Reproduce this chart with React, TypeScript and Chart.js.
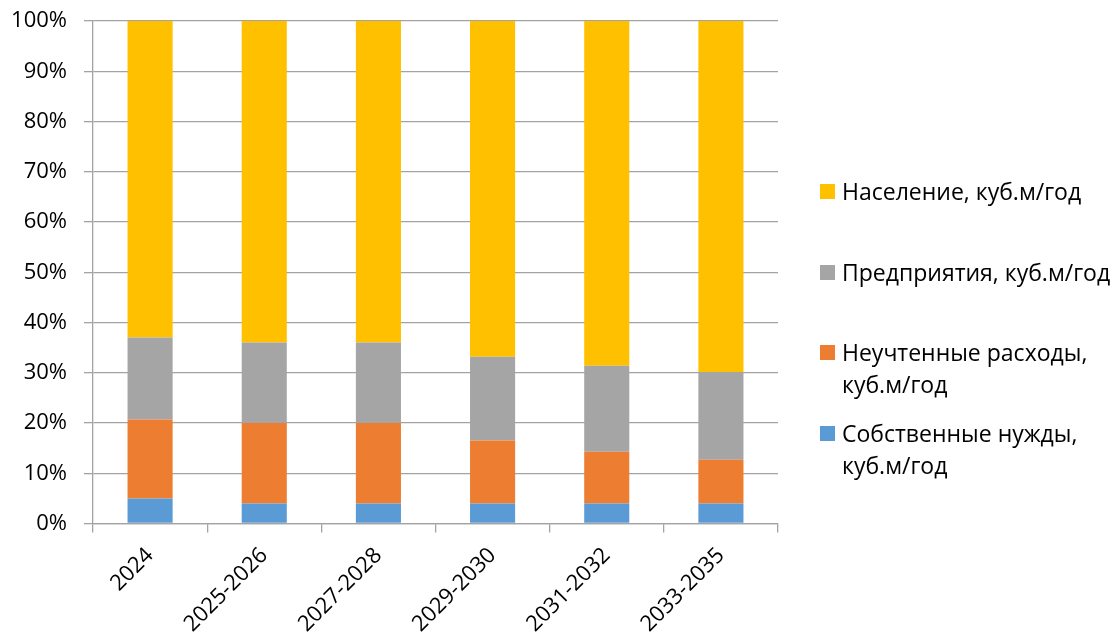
import React, { useEffect, useRef } from "react";
import { Chart, registerables } from "chart.js";

Chart.register(...registerables);

// Periods on the category axis
const periods = ["2024", "2025-2026", "2027-2028", "2029-2030", "2031-2032", "2033-2035"];

// Share of total water consumption, %
const ownNeeds = [5.0, 4.0, 4.0, 4.0, 4.0, 4.0];
const unaccounted = [15.7, 16.0, 16.0, 12.5, 10.3, 8.7];
const enterprises = [16.3, 16.0, 16.0, 16.7, 17.1, 17.4];
const population = [63.0, 64.0, 64.0, 66.8, 68.6, 69.9];

const seriesNames = [
  "Собственные нужды, куб.м/год",
  "Неучтенные расходы, куб.м/год",
  "Предприятия, куб.м/год",
  "Население, куб.м/год",
];
const seriesColors = ["#5B9BD5", "#ED7D31", "#A5A5A5", "#FFC000"];

// Legend entries, top to bottom, with their wrapped lines
const legendItems = [
  { color: "#FFC000", lines: ["Население, куб.м/год"], top: 175 },
  { color: "#A5A5A5", lines: ["Предприятия, куб.м/год"], top: 256 },
  { color: "#ED7D31", lines: ["Неучтенные расходы,", "куб.м/год"], top: 336 },
  { color: "#5B9BD5", lines: ["Собственные нужды,", "куб.м/год"], top: 417 },
];

const FONT = "'Open Sans', 'DejaVu Sans', sans-serif";
const GRID = "#a3a3a3";

export default function App() {
  const canvasRef = useRef<HTMLCanvasElement | null>(null);

  useEffect(() => {
    const canvas = canvasRef.current;
    if (!canvas) return;
    const values = [ownNeeds, unaccounted, enterprises, population];
    const chart = new Chart(canvas, {
      type: "bar",
      data: {
        labels: periods,
        datasets: values.map((data, i) => ({
          label: seriesNames[i],
          data,
          backgroundColor: seriesColors[i],
          borderWidth: 0,
          barPercentage: 0.395,
          categoryPercentage: 1,
        })),
      },
      options: {
        responsive: false,
        animation: false,
        layout: { padding: { top: 21, right: 342, left: 0, bottom: 0 } },
        plugins: { legend: { display: false }, tooltip: { enabled: false } },
        scales: {
          x: {
            stacked: true,
            offset: true,
            grid: {
              offset: true,
              drawOnChartArea: false,
              drawTicks: true,
              tickLength: 9,
              color: GRID,
              lineWidth: 1.3,
            },
            border: { color: GRID, width: 1.3 },
            ticks: {
              color: "#000",
              font: { family: FONT, size: 22 },
              minRotation: 45,
              maxRotation: 45,
              padding: 10,
            },
            afterFit: (scale: any) => {
              scale.height = 641 - 523.5;
            },
          },
          y: {
            stacked: true,
            min: 0,
            max: 100,
            grid: { color: GRID, lineWidth: 1.3, tickLength: 9, drawTicks: true },
            border: { color: GRID, width: 1.3 },
            ticks: {
              stepSize: 10,
              color: "#000",
              padding: 17,
              font: { family: FONT, size: 22 },
              callback: (v: any) => `${v}%`,
            },
            afterFit: (scale: any) => {
              scale.width = 93;
              scale.paddingTop = 0;
              scale.paddingBottom = 0;
            },
          },
        },
      },
    });
    return () => chart.destroy();
  }, []);

  return (
    <div style={{ position: "fixed", left: 0, top: 0, width: 1120, height: 641, background: "#fff" }}>
      <canvas ref={canvasRef} width={1120} height={641} style={{ width: 1120, height: 641, display: "block" }} />
      {legendItems.map((item, i) => (
        <div
          key={i}
          style={{
            position: "absolute",
            left: 820,
            top: item.top,
            display: "flex",
            alignItems: "flex-start",
            fontFamily: FONT,
            fontSize: 23,
            lineHeight: "32px",
            color: "#000",
            whiteSpace: "nowrap",
          }}
        >
          <span
            style={{
              display: "inline-block",
              width: 15,
              height: 15,
              marginTop: 9,
              marginRight: 7,
              background: item.color,
            }}
          />
          <span>
            {item.lines.map((l, j) => (
              <div key={j}>{l}</div>
            ))}
          </span>
        </div>
      ))}
    </div>
  );
}
